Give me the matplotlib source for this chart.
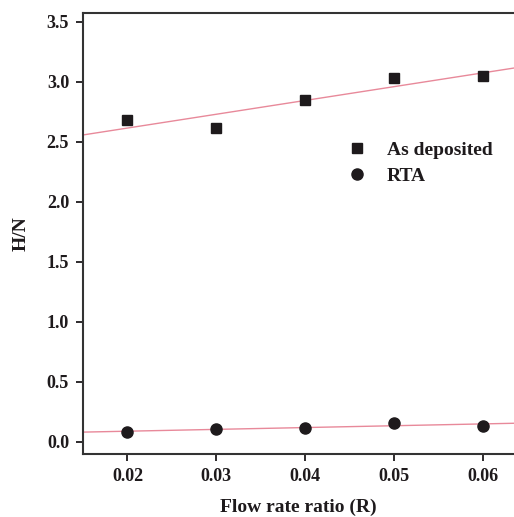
import numpy as np
import matplotlib
matplotlib.use("Agg")
import matplotlib.pyplot as plt

# ================= DATA =================
ratio = [0.02, 0.03, 0.04, 0.05, 0.06]
as_deposited = [2.68, 2.62, 2.85, 3.03, 3.05]
rta = [0.083, 0.108, 0.117, 0.16, 0.133]
y_ticks = [0.0, 0.5, 1.0, 1.5, 2.0, 2.5, 3.0, 3.5]
x_ticks = [0.02, 0.03, 0.04, 0.05, 0.06]

plt.rcParams["font.family"] = ["Liberation Serif", "DejaVu Serif"]
plt.rcParams["font.weight"] = "bold"

INK = "#1e1a1c"
FIT = "#e8899a"
XLIM = (0.0150, 0.0635)

fig = plt.figure(figsize=(5.14, 5.17), dpi=100)
ax = fig.add_axes([0.1615, 0.1219, 0.8385, 0.853])

# linear fits across the whole axis
xf = np.array(XLIM)
for ys in (as_deposited, rta):
    k, b = np.polyfit(ratio, ys, 1)
    ax.plot(xf, k * xf + b, color=FIT, lw=1.0, zorder=1)

ax.plot(ratio, as_deposited, "s", color=INK, ms=7, label="As deposited", zorder=3)
ax.plot(ratio, rta, "o", color=INK, ms=8, label="RTA", zorder=3)

ax.set_xlim(*XLIM)
ax.set_ylim(-0.1, 3.575)
ax.set_xticks(x_ticks)
ax.set_xticklabels([f"{v:.2f}" for v in x_ticks])
ax.set_yticks(y_ticks)
ax.set_yticklabels([f"{v:.1f}" for v in y_ticks])

ax.spines["right"].set_visible(False)
for s in ("left", "bottom", "top"):
    ax.spines[s].set_linewidth(1.5)
    ax.spines[s].set_color("#333333")
ax.tick_params(direction="out", length=5, width=1.3, labelsize=13,
               colors=INK, top=False, right=False, pad=5)

ax.set_xlabel("Flow rate ratio (R)", fontsize=14, fontweight="bold", color=INK, labelpad=10)
ax.set_ylabel("H/N", fontsize=14, fontweight="bold", color=INK, labelpad=12)

leg = ax.legend(loc="upper left", bbox_to_anchor=(0.596, 0.727), frameon=False,
                fontsize=14, handletextpad=1.0, labelspacing=0.45,
                handlelength=1.0, borderaxespad=0)
for t in leg.get_texts():
    t.set_color(INK)

fig.savefig("out.png", dpi=100)
